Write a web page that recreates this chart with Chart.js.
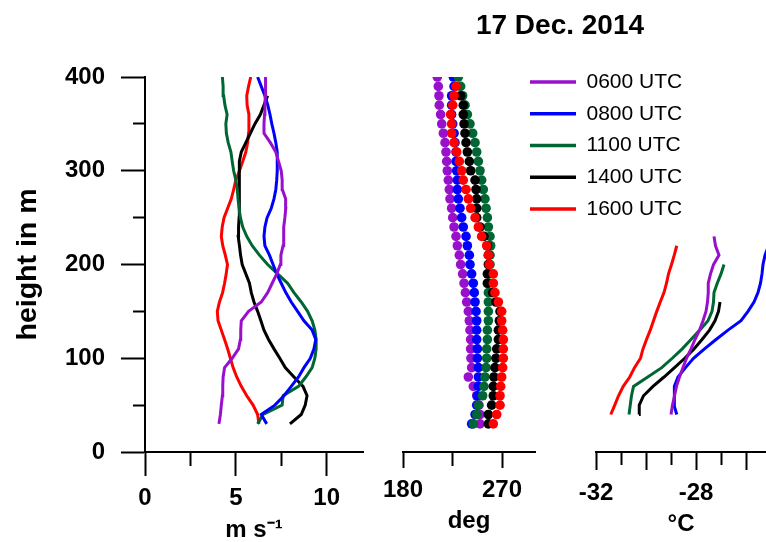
<!DOCTYPE html>
<html>
<head>
<meta charset="utf-8">
<script src="https://cdn.jsdelivr.net/npm/chart.js@4.4.1/dist/chart.umd.min.js"></script>
<style>
    body { margin: 0; background: #fff; }
    #wrap { position: relative; width: 766px; height: 542px; overflow: hidden; }
    #wrap canvas { position: absolute; left: 0; top: 0; }
</style>
</head>
<body>
<div id="wrap">
    <canvas id="speedChart" width="766" height="542"></canvas>
    <canvas id="dirChart" width="766" height="542"></canvas>
    <canvas id="tempChart" width="766" height="542"></canvas>
    <canvas id="legendChart" width="766" height="542"></canvas>
</div>
<script>
const times = ['0600 UTC', '0800 UTC', '1100 UTC', '1400 UTC', '1600 UTC'];
const colors = ['#9910cc', '#0000ff', '#006633', '#000000', '#ff0000'];

// profile heights (m)
const heights = [30, 40, 50, 60, 70, 80, 90, 100, 110, 120, 130, 140, 150, 160, 170, 180, 190, 200, 210,
    220, 230, 240, 250, 260, 270, 280, 290, 300, 310, 320, 330, 340, 350, 360, 370, 380, 390, 400];
const tempHeights = [40, 50, 60, 70, 80, 90, 100, 110, 120, 130, 140, 150, 160, 170, 180, 190, 200, 210, 220, 230];

// wind speed (m/s)
const speed0600 = [4.07, 4.15, 4.2, 4.26, 4.28, 4.3, 4.38, 4.8, 5.15, 5.25, 5.27, 5.3, 5.7, 6.4, 6.75, 7.0, 7.25, 7.45, 7.48,
    7.6, 7.62, 7.65, 7.7, 7.75, 7.74, 7.56, 7.55, 7.5, 7.35, 7.2, 6.9, 6.55, 6.55, 6.58, 6.6, 6.62, 6.63, 6.64];
const speed0800 = [6.7, 6.4, 7.15, 7.65, 8.05, 8.45, 8.75, 9.1, 9.3, 9.4, 9.2, 8.75, 8.4, 8.05, 7.75, 7.5, 7.25, 7.05, 6.85,
    6.6, 6.55, 6.6, 6.72, 6.95, 7.1, 7.2, 7.25, 7.28, 7.28, 7.28, 7.2, 7.1, 6.98, 6.88, 6.76, 6.6, 6.4, 6.2];
const speed1100 = [6.2, 6.5, 7.55, 7.6, 8.45, 8.85, 9.2, 9.35, 9.42, 9.42, 9.35, 9.2, 8.95, 8.6, 8.2, 7.85, 7.3, 6.75, 6.3,
    5.9, 5.6, 5.38, 5.25, 5.18, 5.12, 5.08, 5.0, 4.88, 4.8, 4.73, 4.58, 4.48, 4.45, 4.52, 4.4, 4.33, 4.3, 4.26];
const speed1400 = [7.98, 8.6, 8.82, 8.92, 8.7, 8.2, 7.72, 7.42, 7.1, 6.8, 6.55, 6.38, 6.2, 6.0, 5.85, 5.75, 5.55, 5.35, 5.26,
    5.2, 5.13, 5.15, 5.18, 5.18, 5.18, 5.2, 5.22, 5.2, 5.18, 5.3, 5.55, 5.8, 6.05, 6.35, 6.55, 6.75, null, null];
const speed1600 = [6.27, 6.2, 5.95, 5.6, 5.3, 5.05, 4.85, 4.7, 4.55, 4.38, 4.2, 4.02, 3.98, 4.1, 4.27, 4.38, 4.47, 4.54, 4.42,
    4.28, 4.2, 4.25, 4.35, 4.55, 4.75, 4.88, 5.0, 5.2, 5.38, 5.55, 5.65, 5.7, 5.72, 5.72, 5.62, 5.6, 5.7, 5.82];

// wind direction (deg)
const dir0600 = [250.0, 250.0, 249.1, 247.0, 243.9, 239.4, 242.4, 241.8, 241.5, 241.5, 240.9, 240.3, 239.4, 237.9, 236.7, 235.5,
    234.2, 232.4, 231.2, 229.4, 228.2, 226.4, 225.2, 224.2, 222.7, 222.1, 221.2, 220.3, 219.7, 219.1, 218.2, 216.7, 215.2, 214.2,
    213.0, 212.7, 212.1, 211.2];
const dir0800 = [242.4, 245.5, 247.0, 247.6, 248.5, 248.5, 248.5, 247.6, 247.6, 247.0, 247.0, 247.0, 246.4, 245.5, 244.8, 243.9,
    242.4, 240.9, 240.3, 238.5, 237.3, 234.8, 233.3, 231.8, 230.3, 229.4, 229.4, 228.8, 228.2, 228.2, 227.3, 226.4, 225.2, 224.2,
    224.2, 224.2, 226.4, 225.8];
const dir1100 = [243.9, 247.0, 248.5, 252.4, 253.6, 254.5, 255.5, 256.1, 256.1, 256.7, 256.7, 257.6, 257.6, 257.6, 257.6, 257.6,
    258.5, 259.1, 259.1, 259.7, 259.1, 257.6, 256.7, 255.5, 254.5, 253.0, 251.5, 250.0, 248.5, 247.0, 245.5, 243.3, 240.9, 238.5,
    236.4, 234.2, 232.4, 230.3];
const dir1400 = [257.6, 257.6, 260.6, 262.1, 262.1, 262.7, 263.6, 264.5, 265.2, 266.7, 266.7, 267.6, 268.2, 264.5, 261.5, 256.7,
    256.7, 257.6, 257.6, 256.7, 253.6, 250.0, 247.0, 247.0, 247.0, 246.4, 245.5, 241.5, 240.3, 238.5, 237.3, 236.4, 235.5, 234.8,
    234.8, 232.4, null, null];
const dir1600 = [262.1, 265.2, 268.2, 268.2, 268.8, 269.7, 270.6, 271.2, 271.2, 271.2, 270.6, 269.7, 269.7, 266.7, 263.6, 262.1,
    262.1, 258.5, 257.6, 256.1, 251.5, 248.5, 245.5, 241.5, 239.4, 237.3, 234.8, 233.3, 231.2, 228.8, 226.4, 224.2, 224.2, 223.3,
    225.2, 226.4, 228.2, null];

// temperature (°C)
const temp0600 = [-29.0, -28.94, -28.86, -28.78, -28.66, -28.52, -28.38, -28.2, -28.04, -27.86, -27.72, -27.6, -27.54, -27.51,
    -27.51, -27.42, -27.3, -27.08, -27.22, -27.28];
const temp0800 = [-28.77, -28.88, -28.88, -28.85, -28.72, -28.42, -28.1, -27.66, -27.2, -26.72, -26.2, -25.92, -25.68, -25.52,
    -25.42, -25.36, -25.32, -25.24, -25.1, null];
const temp1100 = [-30.68, -30.63, -30.58, -30.5, -29.93, -29.37, -28.95, -28.55, -28.2, -27.85, -27.52, -27.36, -27.3, -27.28,
    -27.15, -27.0, -26.88, null, null, null];
const temp1400 = [-30.28, -30.27, -30.1, -29.72, -29.28, -28.86, -28.45, -28.08, -27.76, -27.46, -27.24, -27.1, -27.04,
    null, null, null, null, null, null, null];
const temp1600 = [-31.41, -31.25, -31.1, -30.91, -30.65, -30.46, -30.22, -30.12, -29.98, -29.83, -29.7, -29.57, -29.43, -29.28,
    -29.18, -29.1, -28.98, -28.87, -28.77, null];

// axis ticks
const heightTicks = [0, 50, 100, 150, 200, 250, 300, 350, 400];
const heightLabels = [0, 100, 200, 300, 400];
const speedTicks = [0, 2.5, 5, 7.5, 10];
const speedLabels = [0, 5, 10];
const dirTicks = [180, 225, 270];
const dirLabels = [180, 270];
const tempTicks = [-32, -31, -30, -29, -28, -27, -26];
const tempMajor = [-32, -30, -28, -26];
const tempLabels = [-32, -28];

const speeds = [speed0600, speed0800, speed1100, speed1400, speed1600];
const directions = [dir0600, dir0800, dir1100, dir1400, dir1600];
const temps = [temp0600, temp0800, temp1100, temp1400, temp1600];

Chart.defaults.font.family = "'Liberation Sans', Arial, sans-serif";
Chart.defaults.color = '#000';
Chart.defaults.animation = false;
Chart.defaults.events = [];

const tickFont = { size: 24, weight: 'bold' };
const axisTitleFont = { size: 24, weight: 'bold', lineHeight: 1 };

function points(values, levels) {
    return values.map((v, i) => ({ x: v, y: levels[i] })).filter(p => p.x !== null);
}

function setTicks(values) {
    return scale => { scale.ticks = values.map(v => ({ value: v })); };
}

// x axis with short minor ticks
function bottomAxis(min, max, ticks, labels, major, tickLength, minorLength, padding, title, titlePad) {
    return {
        type: 'linear',
        min: min,
        max: max,
        afterBuildTicks: setTicks(ticks),
        afterFit: s => { s.height = 90; },
        ticks: {
            callback: v => labels.includes(v) ? String(v) : '',
            font: tickFont,
            padding: padding,
            autoSkip: false,
            maxRotation: 0
        },
        grid: {
            drawOnChartArea: false,
            tickLength: tickLength,
            tickWidth: 2,
            tickColor: '#000',
            tickBorderDash: c => (c.tick && !major.includes(c.tick.value)) ? [minorLength, 200] : []
        },
        border: { color: '#000', width: 2 },
        title: { display: true, text: title, font: axisTitleFont, padding: { top: 0, bottom: titlePad } }
    };
}

// invisible y axis, only keeps the plot area in place
function hiddenY(width, position) {
    return {
        type: 'linear',
        position: position,
        min: 0,
        max: 400,
        afterFit: s => { s.width = width; },
        ticks: { display: false },
        grid: { display: false },
        border: { display: false }
    };
}

// Wind speed
new Chart(document.getElementById('speedChart'), {
    type: 'scatter',
    data: {
        datasets: times.map((t, i) => ({
            label: t,
            data: points(speeds[i], heights),
            showLine: true,
            borderColor: colors[i],
            borderWidth: 3,
            pointRadius: 0
        }))
    },
    options: {
        responsive: false,
        layout: { padding: { top: 77, left: 0, right: 403, bottom: 0 } },
        plugins: { legend: { display: false }, tooltip: { enabled: false } },
        scales: {
            x: bottomAxis(0, 12, speedTicks, speedLabels, speedLabels, 24, 13, 7.8, 'm s\u207B\u00B9', 0),
            y: {
                type: 'linear',
                min: 0,
                max: 400,
                afterBuildTicks: setTicks(heightTicks),
                afterFit: s => { s.width = 145; },
                ticks: {
                    callback: v => heightLabels.includes(v) ? String(v) : '',
                    font: tickFont,
                    padding: 16,
                    autoSkip: false
                },
                grid: {
                    drawOnChartArea: false,
                    tickLength: 24,
                    tickWidth: 2,
                    tickColor: '#000',
                    tickBorderDash: c => (c.tick && !heightLabels.includes(c.tick.value)) ? [12, 12] : [],
                    tickBorderDashOffset: c => (c.tick && !heightLabels.includes(c.tick.value)) ? 12 : 0
                },
                border: { color: '#000', width: 2 },
                title: {
                    display: true,
                    text: 'height in m',
                    font: { size: 28.5, weight: 'bold', lineHeight: 1 },
                    padding: { top: 13.75, bottom: 0 }
                }
            }
        }
    }
});

// Wind direction (dots), carries the title
const dotOrder = [4, 3, 2, 1, 0];
new Chart(document.getElementById('dirChart'), {
    type: 'scatter',
    data: {
        datasets: times.map((t, i) => ({
            label: t,
            data: points(directions[i], heights),
            pointBackgroundColor: colors[i],
            pointBorderWidth: 0,
            pointRadius: 4.8,
            order: dotOrder[i]
        }))
    },
    options: {
        responsive: false,
        layout: { padding: { top: 0, left: 354, right: 0, bottom: 0 } },
        plugins: {
            legend: { display: false },
            tooltip: { enabled: false },
            title: {
                display: true,
                text: '17 Dec. 2014',
                color: '#000',
                font: { size: 28, weight: 'bold' },
                padding: { top: 9.2, bottom: 34.2 }
            }
        },
        scales: {
            x: bottomAxis(180, 300, dirTicks, dirLabels, dirLabels, 16, 13, 8.1, 'deg', 8.5),
            y: hiddenY(49, 'left'),
            yRight: hiddenY(231, 'right')
        }
    }
});

// Temperature
new Chart(document.getElementById('tempChart'), {
    type: 'scatter',
    data: {
        datasets: times.map((t, i) => ({
            label: t,
            data: points(temps[i], tempHeights),
            showLine: true,
            borderColor: colors[i],
            borderWidth: 3,
            pointRadius: 0
        }))
    },
    options: {
        responsive: false,
        layout: { padding: { top: 77, left: 596, right: 0, bottom: 0 } },
        plugins: { legend: { display: false }, tooltip: { enabled: false } },
        scales: {
            x: bottomAxis(-32, -25.2, tempTicks, tempLabels, tempMajor, 18, 12, 8.6, '°C', 6),
            y: { type: 'linear', min: 0, max: 400, display: false }
        }
    }
});

// Legend for the five profile times
new Chart(document.getElementById('legendChart'), {
    type: 'scatter',
    data: {
        datasets: times.map((t, i) => ({
            label: t,
            data: [],
            borderColor: colors[i],
            backgroundColor: colors[i],
            pointBorderWidth: 3.5
        }))
    },
    options: {
        responsive: false,
        layout: { padding: { top: 60.75, left: 519.25, right: 0, bottom: 0 } },
        plugins: {
            tooltip: { enabled: false },
            legend: {
                display: true,
                position: 'top',
                align: 'start',
                labels: {
                    usePointStyle: true,
                    pointStyle: 'line',
                    pointStyleWidth: 46,
                    padding: 10.75,
                    color: '#000',
                    font: { size: 21 }
                }
            }
        },
        scales: {
            x: { display: false },
            y: { display: false }
        }
    }
});
</script>
</body>
</html>
